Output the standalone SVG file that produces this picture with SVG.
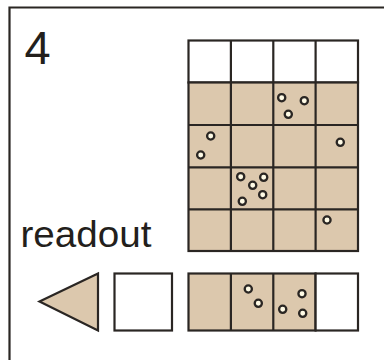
<svg xmlns="http://www.w3.org/2000/svg" width="384" height="360" viewBox="0 0 384 360">
<style>
.ln{stroke:#2a2623;stroke-width:2.2;fill:none}
.tan{fill:#dcc8ad;stroke:#2a2623;stroke-width:2.2}
.wht{fill:#ffffff;stroke:#2a2623;stroke-width:2.2}
.dot{fill:#fffbe6;stroke:#2a2623;stroke-width:2.3}
.t{font-family:"Liberation Sans",Arial,sans-serif;fill:#231f1c}
</style>
<rect x="0" y="0" width="384" height="360" fill="#ffffff"/>
<g id="frame"><path class="ln" d="M384 7.5 H9.5 V360" stroke-width="2.6"/></g>
<text class="t" x="24.5" y="63.5" font-size="47">4</text>
<text class="t" x="20.5" y="246.5" font-size="37" textLength="131" lengthAdjust="spacingAndGlyphs">readout</text>
<g id="grid">
<rect class="wht" x="188.5" y="40.5" width="169.5" height="42"/>
<rect class="tan" x="188.5" y="82.5" width="169.5" height="168.5"/>
<path class="ln" d="M230.9 40.5V251 M273.3 40.5V251 M315.6 40.5V251 M188.5 125H358 M188.5 167.3H358 M188.5 209.3H358"/>
</g>
<g id="readout-row">
<rect class="tan" x="188.5" y="273.5" width="127" height="57"/>
<rect class="wht" x="315.6" y="273.5" width="42.4" height="57"/>
<path class="ln" d="M230.9 273.5V330.5 M273.3 273.5V330.5"/>
</g>
<g id="buffer"><rect class="wht" x="114.5" y="273.5" width="57.5" height="57"/></g>
<g id="arrow"><polygon class="tan" points="39.5,301.5 98,273.5 98,330.5"/></g>
<g id="dots">
<circle class="dot" cx="281.7" cy="97.7" r="3.6"/>
<circle class="dot" cx="304.3" cy="100.7" r="3.6"/>
<circle class="dot" cx="288.3" cy="114.3" r="3.6"/>
<circle class="dot" cx="210.7" cy="136" r="3.6"/>
<circle class="dot" cx="200.7" cy="155" r="3.6"/>
<circle class="dot" cx="340.3" cy="142.3" r="3.6"/>
<circle class="dot" cx="240.7" cy="176.7" r="3.6"/>
<circle class="dot" cx="263.7" cy="177.3" r="3.6"/>
<circle class="dot" cx="252.7" cy="185.3" r="3.6"/>
<circle class="dot" cx="262.7" cy="194.7" r="3.6"/>
<circle class="dot" cx="242.3" cy="201.3" r="3.6"/>
<circle class="dot" cx="327" cy="220" r="3.6"/>
<circle class="dot" cx="248.3" cy="289" r="3.6"/>
<circle class="dot" cx="258.3" cy="303.3" r="3.6"/>
<circle class="dot" cx="302" cy="293.7" r="3.6"/>
<circle class="dot" cx="282.7" cy="309.3" r="3.6"/>
<circle class="dot" cx="302.7" cy="313.3" r="3.6"/>
</g>
</svg>
